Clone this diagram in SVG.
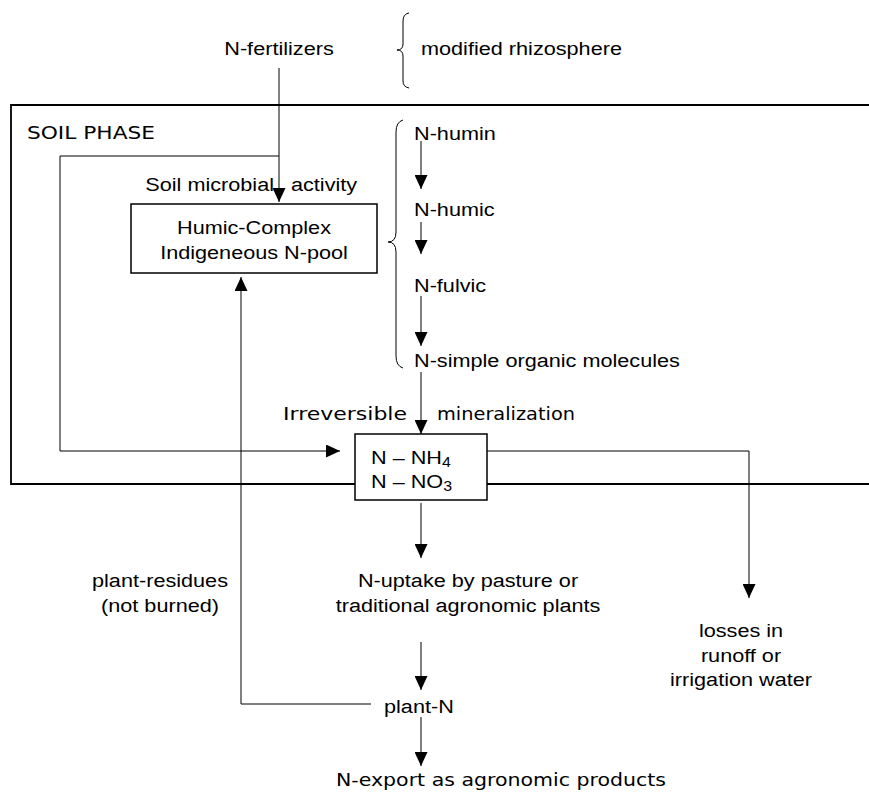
<svg xmlns="http://www.w3.org/2000/svg" width="869" height="796" viewBox="0 0 869 796">
<defs>
<marker id="ah" markerUnits="userSpaceOnUse" markerWidth="14" markerHeight="13" refX="14" refY="6.5" orient="auto"><path d="M0,0 L14,6.5 L0,13 z" fill="#000"/></marker>
</defs>
<style>
text{font-family:"Liberation Sans",Arial,sans-serif;font-size:19px;fill:#000}
.c{font-family:"DejaVu Sans",sans-serif;font-size:18px}
.m{text-anchor:middle}
.e{text-anchor:end}
.ln{fill:none;stroke:#000;stroke-width:1}
.ar{marker-end:url(#ah)}
.box{fill:#fff;stroke:#000;stroke-width:1.5}
.br{fill:none;stroke:#000;stroke-width:1}
</style>
<rect width="869" height="796" fill="#fff"/>
<g id="soil-phase">
<path d="M869,105 H11 V484 H869" fill="none" stroke="#000" stroke-width="1.8"/>
<text class="c" x="27" y="139" textLength="128" lengthAdjust="spacingAndGlyphs">SOIL PHASE</text>
</g>
<g id="connectors">
<path class="ln ar" d="M279,68 V202"/>
<path class="ln ar" d="M279,156 H60 V451 H340"/>
<path class="ln ar" d="M421,141 V189"/>
<path class="ln ar" d="M421,222 V254"/>
<path class="ln ar" d="M421,296 V346"/>
<path class="ln ar" d="M421,372 V434"/>
<path class="ln ar" d="M487,451 H749 V598"/>
<path class="ln ar" d="M421,503 V558"/>
<path class="ln ar" d="M421,642 V690"/>
<path class="ln ar" d="M421,717 V766"/>
<path class="ln ar" d="M371,704 H241 V277"/>
</g>
<g id="n-fertilizers"><text class="m" transform="translate(279,55) scale(1.14,1)">N-fertilizers</text></g>
<g id="modified-rhizosphere">
<path class="br" d="M409,13 Q403,14 403,21 V44 Q403,50 397,50 Q403,50 403,56 V81 Q403,87 409,88"/>
<text transform="translate(421,55) scale(1.14,1)">modified rhizosphere</text>
</g>
<g id="soil-microbial-activity">
<text class="e" transform="translate(274,191) scale(1.14,1)">Soil microbial</text>
<text transform="translate(291,191) scale(1.14,1)">activity</text>
</g>
<g id="humic-complex">
<rect class="box" x="131" y="204" width="246" height="69"/>
<text class="m" transform="translate(254,234) scale(1.14,1)">Humic-Complex</text>
<text class="m" transform="translate(254,259) scale(1.14,1)">Indigeneous N-pool</text>
</g>
<g id="humic-fractions">
<path class="br" d="M403,120 Q396,122 396,132 V232 Q396,242 388,242 Q396,242 396,252 V356 Q396,366 403,368"/>
<text transform="translate(414,140) scale(1.14,1)">N-humin</text>
<text transform="translate(414,216) scale(1.14,1)">N-humic</text>
<text transform="translate(414,292) scale(1.14,1)">N-fulvic</text>
<text transform="translate(414,367) scale(1.14,1)">N-simple organic molecules</text>
</g>
<g id="mineralization">
<text class="c" x="283" y="420" textLength="124" lengthAdjust="spacingAndGlyphs">Irreversible</text>
<text class="c" x="437" y="420" textLength="138" lengthAdjust="spacingAndGlyphs">mineralization</text>
</g>
<g id="mineral-n">
<rect class="box" x="355" y="434" width="132" height="66"/>
<text transform="translate(371,464) scale(1.14,1)">N – NH<tspan font-size="14" dy="3">4</tspan></text>
<text transform="translate(371,488) scale(1.14,1)">N – NO<tspan font-size="14" dy="3">3</tspan></text>
</g>
<g id="n-uptake">
<text class="m" transform="translate(468,587) scale(1.14,1)">N-uptake by pasture or</text>
<text class="m" transform="translate(468,612) scale(1.14,1)">traditional agronomic plants</text>
</g>
<g id="plant-residues">
<text class="m" transform="translate(160,587) scale(1.14,1)">plant-residues</text>
<text class="m" transform="translate(160,612) scale(1.14,1)">(not burned)</text>
</g>
<g id="losses">
<text class="m" transform="translate(741,637) scale(1.14,1)">losses in</text>
<text class="m" transform="translate(741,662) scale(1.14,1)">runoff or</text>
<text class="m" transform="translate(741,686) scale(1.14,1)">irrigation water</text>
</g>
<g id="plant-n"><text transform="translate(384,713) scale(1.14,1)">plant-N</text></g>
<g id="n-export"><text class="c" x="336" y="786" textLength="330" lengthAdjust="spacingAndGlyphs">N-export as agronomic products</text></g>
</svg>
